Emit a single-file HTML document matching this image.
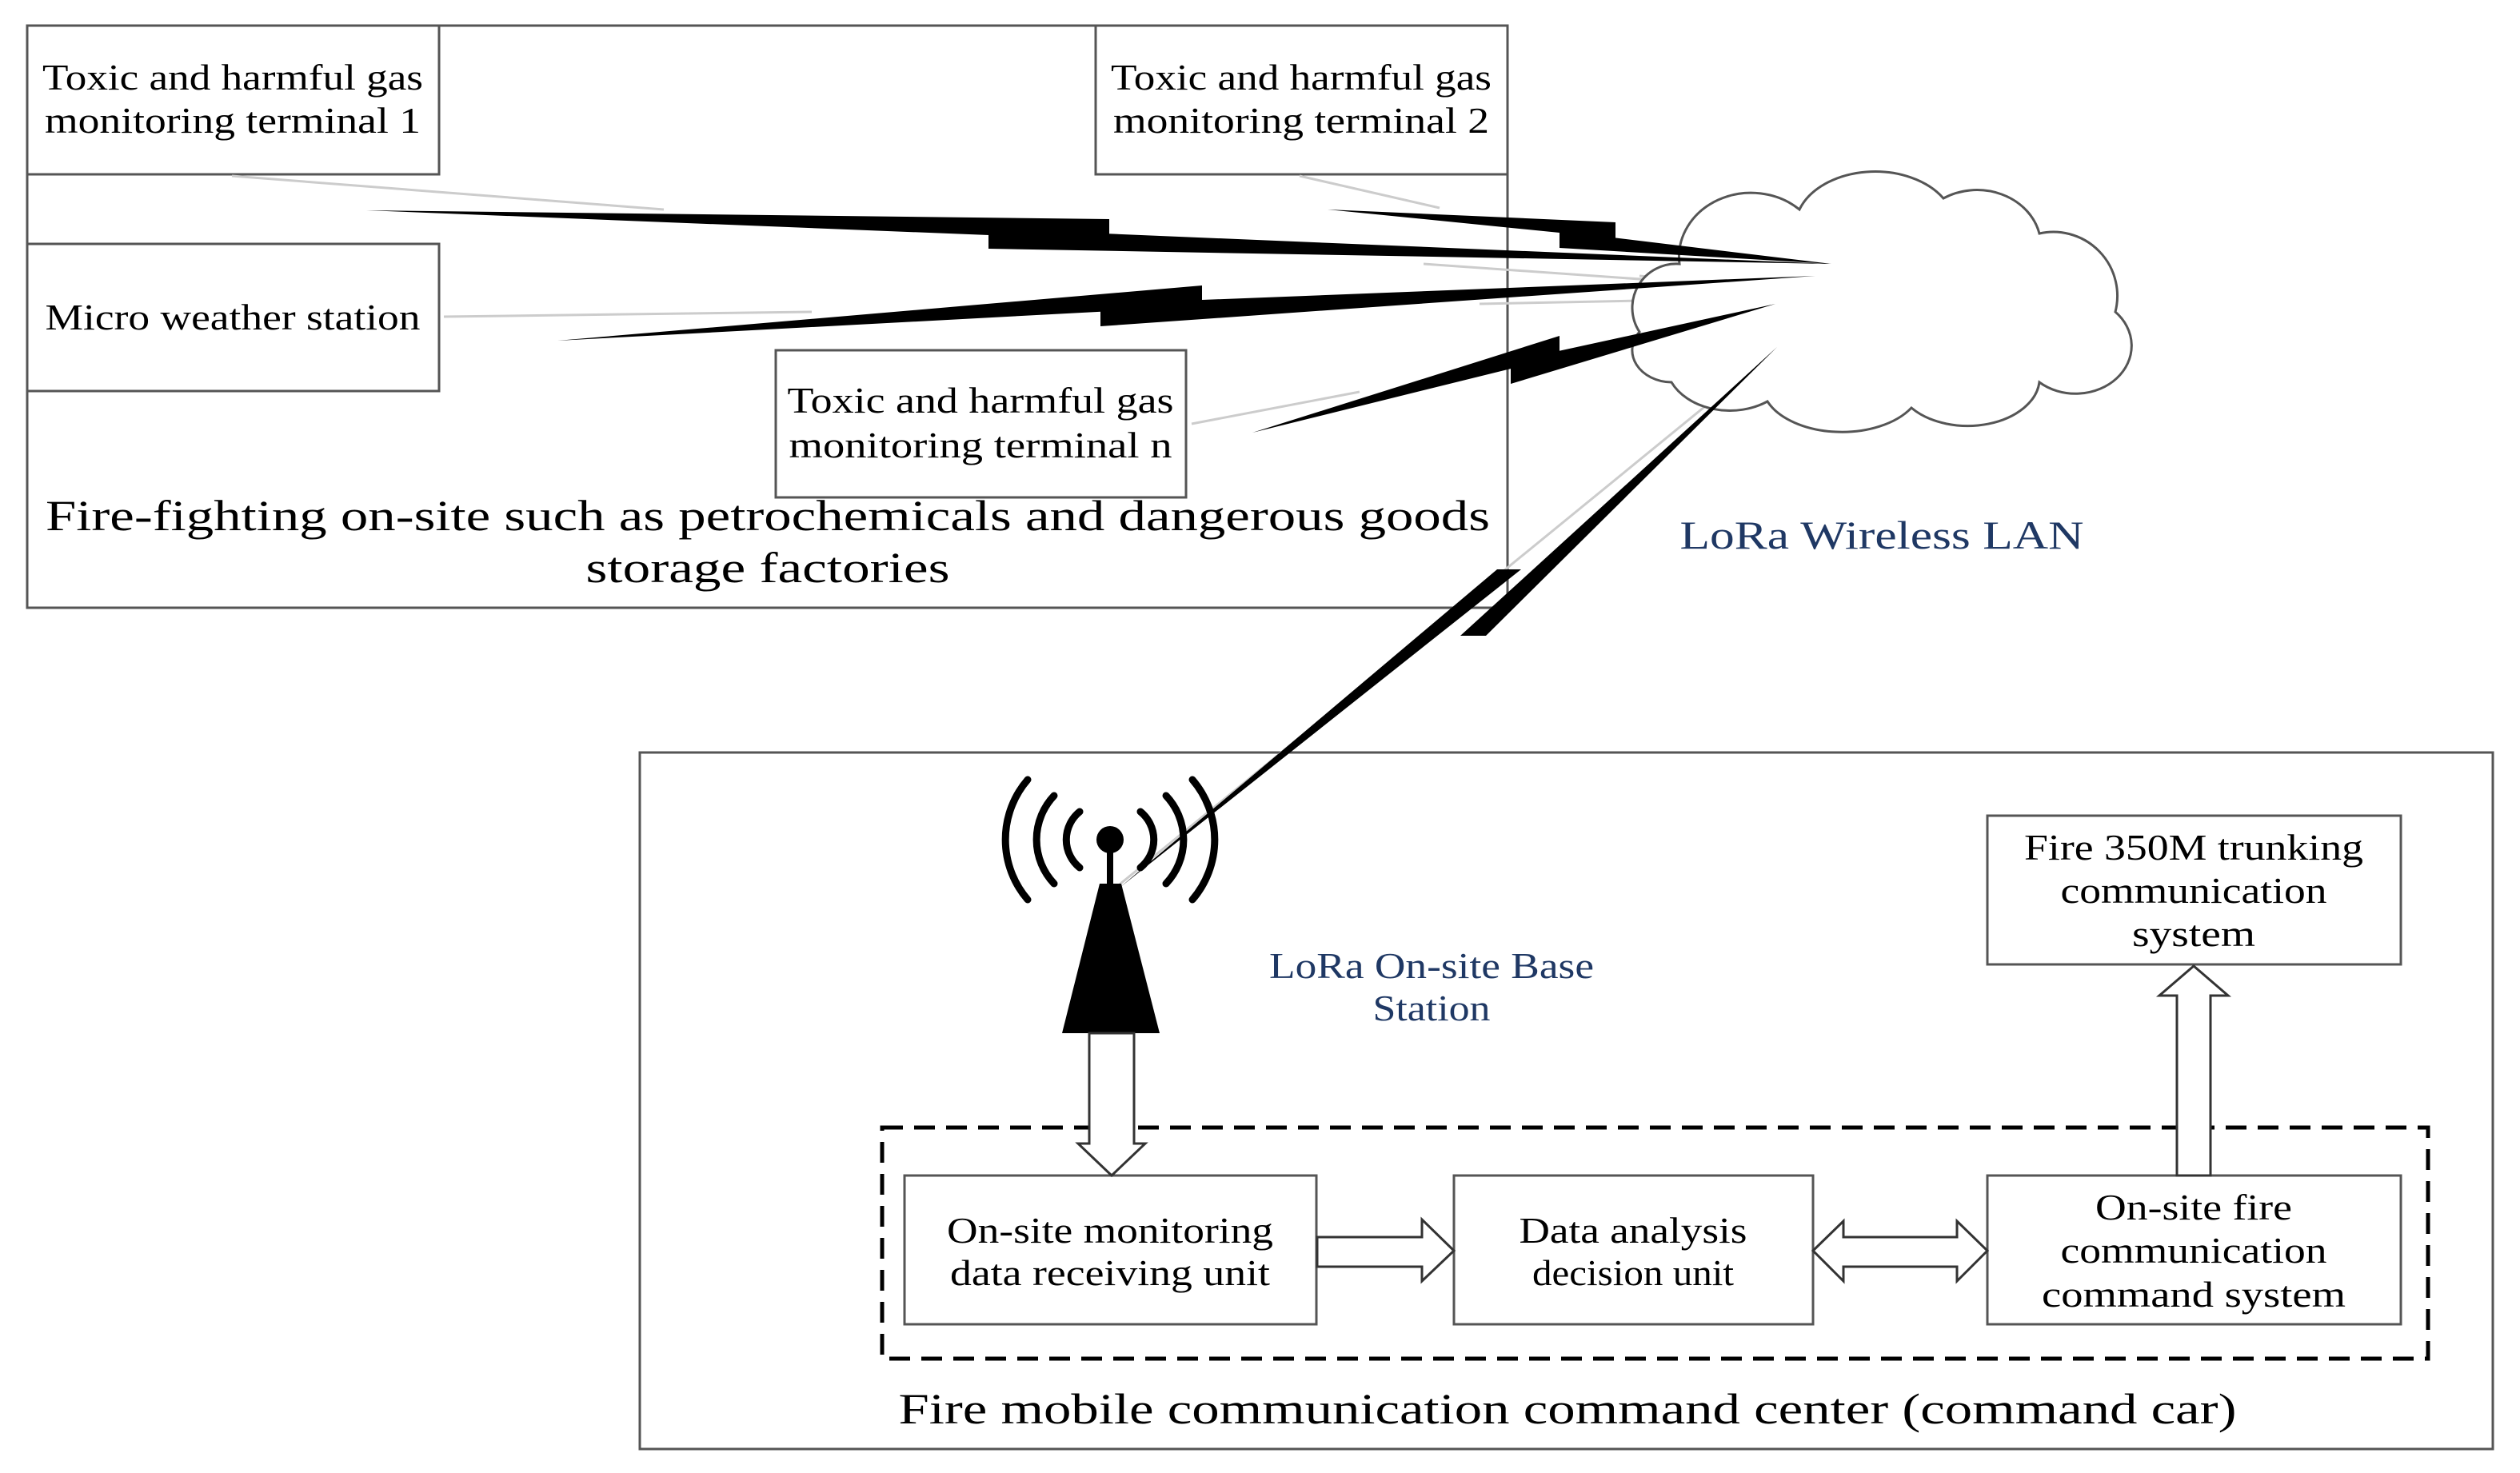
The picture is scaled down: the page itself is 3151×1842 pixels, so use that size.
<!DOCTYPE html>
<html><head><meta charset="utf-8"><style>
html,body{margin:0;padding:0;background:#fff;}
svg{display:block;}
text{font-family:"Liberation Serif",serif;fill:#000;}
</style></head><body>
<svg width="3151" height="1842" viewBox="0 0 3151 1842" xmlns="http://www.w3.org/2000/svg">
<rect width="3151" height="1842" fill="#fff"/>
<g fill="none" stroke="#555" stroke-width="3">
<rect x="34" y="32" width="1851" height="728"/>
<rect x="34" y="32" width="515" height="186"/>
<rect x="1370" y="32" width="515" height="186"/>
<rect x="34" y="305" width="515" height="184"/>
<rect x="970" y="438" width="513" height="184"/>
<rect x="800" y="941" width="2317" height="871"/>
<rect x="1131" y="1470" width="515" height="186"/>
<rect x="1818" y="1470" width="449" height="186"/>
<rect x="2485" y="1470" width="517" height="186"/>
<rect x="2485" y="1020" width="517" height="186"/>
</g>
<rect x="1103" y="1410" width="1933" height="289" fill="none" stroke="#000" stroke-width="5" stroke-dasharray="26,14"/>
<g stroke="#ccc" stroke-width="3">
<line x1="290" y1="220" x2="830" y2="262"/>
<line x1="555" y1="396" x2="1015" y2="390"/>
<line x1="1625" y1="220" x2="1800" y2="260"/>
<line x1="1780" y1="330" x2="2350" y2="370"/>
<line x1="1850" y1="380" x2="2350" y2="370"/>
<line x1="1490" y1="530" x2="1700" y2="490"/>
<line x1="1395" y1="1110" x2="2240" y2="420"/>
<line x1="2050" y1="345" x2="2350" y2="370"/>
</g>
<path d="M2050,415 A55,55 0 0,1 2100,330 A90,80 0 0,1 2250,262 A100,70 0 0,1 2430,248 A80,70 0 0,1 2550,292 A80,80 0 0,1 2645,390 A70,60 0 0,1 2550,478 A90,60 0 0,1 2390,510 A100,60 0 0,1 2210,502 A80,60 0 0,1 2090,478 A50,40 0 0,1 2050,415 Z" fill="#fff" stroke="#555" stroke-width="3"/>
<g fill="#000">
<polygon points="458,263 1387,274 1387,300"/>
<polygon points="1236,286 1236,311 2290,330"/>
<polygon points="697,426 1503,357 1503,383"/>
<polygon points="1376,380 1376,408 2270,345"/>
<polygon points="1660,262 2020,278 2020,298"/>
<polygon points="1950,289 1950,310 2290,330"/>
<polygon points="1566,541 1950,420 1950,446"/>
<polygon points="1889,452 1889,480 2220,380"/>
<polygon points="1400,1110 1872,712 1902,712"/>
<polygon points="1826,795 1858,795 2222,434"/>
</g>
<g fill="none" stroke="#000" stroke-width="9" stroke-linecap="round">
<path d="M1350,1015 A45,45 0 0,0 1350,1085"/>
<path d="M1426,1015 A45,45 0 0,1 1426,1085"/>
<path d="M1318,995 A80,80 0 0,0 1318,1105"/>
<path d="M1458,995 A80,80 0 0,1 1458,1105"/>
<path d="M1285,975 A115,115 0 0,0 1285,1125"/>
<path d="M1491,975 A115,115 0 0,1 1491,1125"/>
</g>
<circle cx="1388" cy="1050" r="17" fill="#000"/>
<rect x="1384" y="1050" width="8" height="60" fill="#000"/>
<polygon points="1375,1105 1402,1105 1450,1292 1328,1292" fill="#000"/>
<g fill="#fff" stroke="#333" stroke-width="3">
<polygon points="1362,1292 1418,1292 1418,1430 1432,1430 1390,1470 1348,1430 1362,1430"/>
<polygon points="1647,1547 1778,1547 1778,1525 1818,1564 1778,1602 1778,1584 1647,1584"/>
<polygon points="2267,1564 2305,1527 2305,1547 2447,1547 2447,1527 2485,1564 2447,1602 2447,1584 2305,1584 2305,1602"/>
<polygon points="2722,1470 2722,1245 2700,1245 2743,1208 2786,1245 2764,1245 2764,1470"/>
</g>
<g font-size="46" text-anchor="middle" lengthAdjust="spacingAndGlyphs">
<text x="291" y="112" textLength="476" lengthAdjust="spacingAndGlyphs">Toxic and harmful gas</text>
<text x="291" y="166" textLength="470" lengthAdjust="spacingAndGlyphs">monitoring terminal 1</text>
<text x="1627" y="112" textLength="476" lengthAdjust="spacingAndGlyphs">Toxic and harmful gas</text>
<text x="1627" y="166" textLength="470" lengthAdjust="spacingAndGlyphs">monitoring terminal 2</text>
<text x="291" y="412" textLength="469" lengthAdjust="spacingAndGlyphs">Micro weather station</text>
<text x="1226" y="516" textLength="483" lengthAdjust="spacingAndGlyphs">Toxic and harmful gas</text>
<text x="1226" y="572" textLength="479" lengthAdjust="spacingAndGlyphs">monitoring terminal n</text>
<text x="1388" y="1554" textLength="408" lengthAdjust="spacingAndGlyphs">On-site monitoring</text>
<text x="1388" y="1607" textLength="400" lengthAdjust="spacingAndGlyphs">data receiving unit</text>
<text x="2042" y="1554" textLength="285" lengthAdjust="spacingAndGlyphs">Data analysis</text>
<text x="2042" y="1607" textLength="252" lengthAdjust="spacingAndGlyphs">decision unit</text>
<text x="2743" y="1525" textLength="246" lengthAdjust="spacingAndGlyphs">On-site fire</text>
<text x="2743" y="1579" textLength="333" lengthAdjust="spacingAndGlyphs">communication</text>
<text x="2743" y="1634" textLength="380" lengthAdjust="spacingAndGlyphs">command system</text>
<text x="2743" y="1075" textLength="424" lengthAdjust="spacingAndGlyphs">Fire 350M trunking</text>
<text x="2743" y="1129" textLength="333" lengthAdjust="spacingAndGlyphs">communication</text>
<text x="2743" y="1183" textLength="154" lengthAdjust="spacingAndGlyphs">system</text>
<text x="1790" y="1223" style="fill:#1f3864" textLength="406" lengthAdjust="spacingAndGlyphs">LoRa On-site Base</text>
<text x="1790" y="1276" style="fill:#1f3864" textLength="147" lengthAdjust="spacingAndGlyphs">Station</text>
</g>
<g font-size="54" text-anchor="middle">
<text x="960" y="663" textLength="1806" lengthAdjust="spacingAndGlyphs">Fire-fighting on-site such as petrochemicals and dangerous goods</text>
<text x="960" y="728" textLength="455" lengthAdjust="spacingAndGlyphs">storage factories</text>
<text x="1960" y="1780" textLength="1673" lengthAdjust="spacingAndGlyphs">Fire mobile communication command center (command car)</text>
<text x="2353" y="686" style="fill:#1f3864" font-size="50" textLength="505" lengthAdjust="spacingAndGlyphs">LoRa Wireless LAN</text>
</g>
</svg>
</body></html>
